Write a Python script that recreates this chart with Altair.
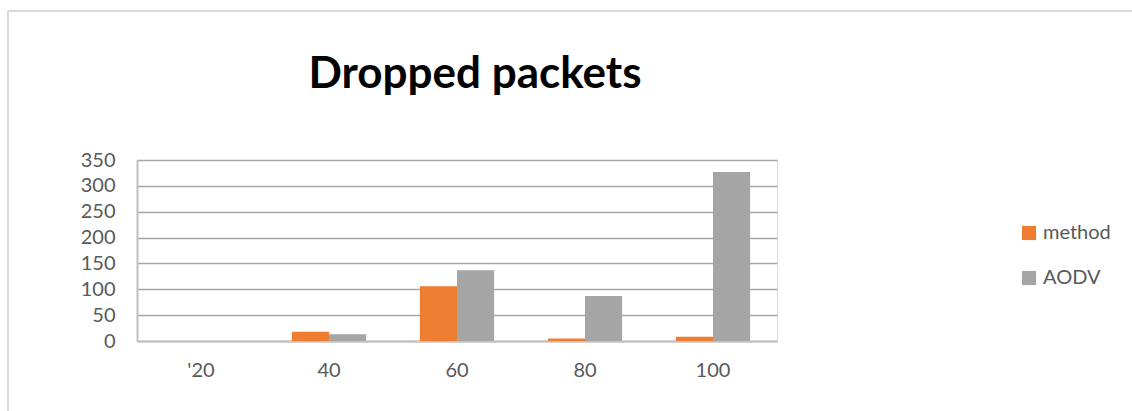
import altair as alt
import pandas as pd

# Dropped packets per node count, for the proposed method and AODV
nodes = ["'20", "40", "60", "80", "100"]
method_drops = [0, 18, 106, 5, 8]
aodv_drops = [0, 13, 137, 87, 327]
series = ["method", "AODV"]
series_colors = ["#ED7D31", "#A5A5A5"]
chart_title = "Dropped packets"

rows = []
for i, n in enumerate(nodes):
    rows.append({"nodes": n, "series": "method", "drops": method_drops[i]})
    rows.append({"nodes": n, "series": "AODV", "drops": aodv_drops[i]})
df = pd.DataFrame(rows)

W, H = 640, 181
PAD_L, PAD_T = 137, 160

bars = alt.Chart(df).mark_bar().encode(
    x=alt.X("nodes:N", sort=nodes, title=None,
            scale=alt.Scale(paddingInner=0.42, paddingOuter=0.21),
            axis=alt.Axis(labelAngle=0, labelFont="Lato", labelFontSize=20,
                          labelColor="#595959", labelPadding=19, ticks=False,
                          domainColor="#BFBFBF", domainWidth=2)),
    xOffset=alt.XOffset("series:N", sort=series),
    y=alt.Y("drops:Q", title=None,
            scale=alt.Scale(domain=[0, 350], nice=False),
            axis=alt.Axis(values=[0, 50, 100, 150, 200, 250, 300, 350],
                          labelFont="Lato", labelFontSize=20, labelColor="#595959",
                          labelPadding=22, ticks=False, domainColor="#BFBFBF",
                          domainWidth=2, grid=True, gridColor="#A6A6A6",
                          gridWidth=1.3)),
    color=alt.Color("series:N", sort=series,
                    scale=alt.Scale(domain=series, range=series_colors),
                    legend=alt.Legend(title=None, orient="none", legendX=882,
                                      legendY=63, symbolType="square",
                                      symbolSize=200, symbolStrokeWidth=0,
                                      labelFont="Lato", labelFontSize=20,
                                      labelColor="#595959", labelOffset=4,
                                      rowPadding=25)),
)

# chart heading above the plot area
heading = alt.Chart(pd.DataFrame({"t": [chart_title]})).mark_text(
    font="Lato", fontSize=44, fontWeight="bold", color="#000000",
    align="center", baseline="alphabetic"
).encode(text="t:N", x=alt.value(475 - PAD_L), y=alt.value(88 - PAD_T))

# light outer frame of the chart box
frame_top = alt.Chart(df).mark_rule(color="#D9D9D9", strokeWidth=2).encode(
    x=alt.value(-PAD_L + 8), x2=alt.value(1132 - PAD_L), y=alt.value(-PAD_T + 11)
)
frame_left = alt.Chart(df).mark_rule(color="#D9D9D9", strokeWidth=2).encode(
    x=alt.value(-PAD_L + 8), y=alt.value(-PAD_T + 11), y2=alt.value(411 - PAD_T)
)

chart = alt.layer(frame_top, frame_left, bars, heading).properties(
    width=W, height=H,
    autosize=alt.AutoSizeParams(type="none"),
    padding={"left": PAD_L, "top": PAD_T, "right": 1132 - PAD_L - W,
             "bottom": 411 - PAD_T - H},
).configure_view(stroke=None).configure(background="white")

chart.save("out.html", embed_options={"renderer": "svg", "actions": False})
